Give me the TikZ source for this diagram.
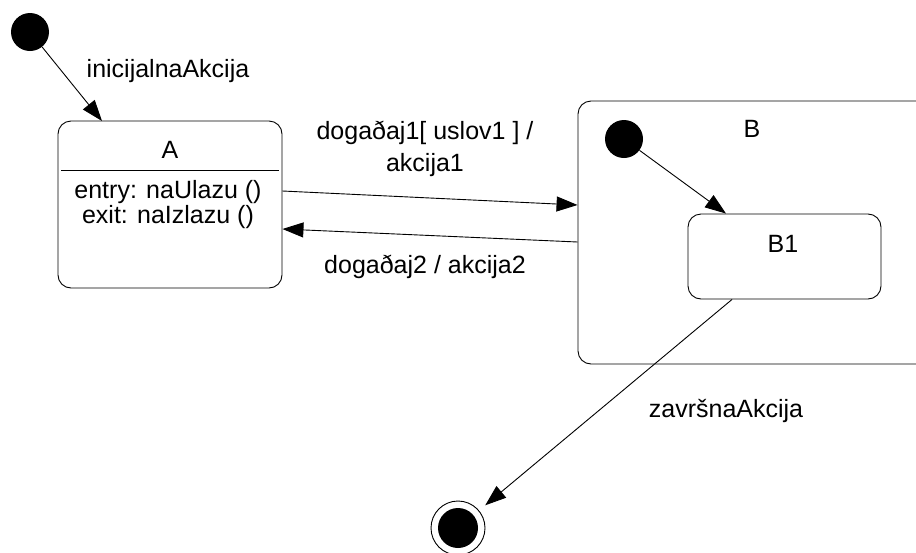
\documentclass[tikz,border=0pt]{standalone}
\usepackage{fontspec}
\setmainfont{Liberation Sans}
\usetikzlibrary{arrows.meta}
\tikzset{
  arr/.style={draw, line width=0.9pt, -{Triangle[length=21pt,width=15pt]}},
  startst/.style={circle, fill=black, minimum size=38pt, inner sep=0pt},
  statebox/.style={draw, line width=0.9pt, rounded corners=13pt, inner sep=0pt},
  lbl/.style={anchor=base, inner sep=0pt},
}
\begin{document}
\begin{tikzpicture}[x=1pt,y=-1pt,font=\fontsize{25}{30}\selectfont]
\useasboundingbox (0,0) rectangle (916,552);
\clip (0,0) rectangle (916,552);
% initial state
\node[startst] (i0) at (30,32) {};
% state A
\node[statebox, minimum width=224pt, minimum height=167pt] (A) at (170,204.5) {};
\draw[line width=0.9pt] (61,170) -- (279,170);
\node[lbl] (Aname) at (170,158) {A};
\node[lbl] (Aentry) at (168,198) {entry: naUlazu ()};
\node[lbl] (Aexit) at (168,223) {exit: naIzlazu ()};
\coordinate (Ain) at (102,121);
\draw[arr] (i0) -- (Ain);
\node[lbl] (l0) at (168,77) {inicijalnaAkcija};
% composite state B
\node[statebox, minimum width=372pt, minimum height=263pt] (B) at (764,232.5) {};
\node[lbl] (Bname) at (752,137) {B};
\node[startst] (i1) at (624,139) {};
\node[statebox, minimum width=193pt, minimum height=85pt] (B1) at (784.5,256.5) {};
\node[lbl] (B1name) at (783,252) {B1};
\draw[arr] (i1) -- ([xshift=-58.5pt]B1.north);
% transitions A <-> B
\draw[arr] ([yshift=13.5pt]A.east) -- ([yshift=27.5pt]B.west);
\draw[arr] ([yshift=-9.5pt]B.west) -- ([yshift=-24.5pt]A.east);
\node[lbl] (l1a) at (425,139) {dogaðaj1[ uslov1 ] /};
\node[lbl] (l1b) at (425,171) {akcija1};
\node[lbl] (l2) at (425,273) {dogaðaj2 / akcija2};
% final state
\node[circle, draw, line width=0.9pt, minimum size=54pt, inner sep=0pt] (fin) at (458,528) {};
\node[circle, fill=black, minimum size=40pt, inner sep=0pt] (finin) at (458,528) {};
\draw[arr, shorten >=8pt] ([xshift=-52.5pt]B1.south) -- (fin);
\node[lbl] (l3) at (726,417) {završnaAkcija};
\end{tikzpicture}
\end{document}
